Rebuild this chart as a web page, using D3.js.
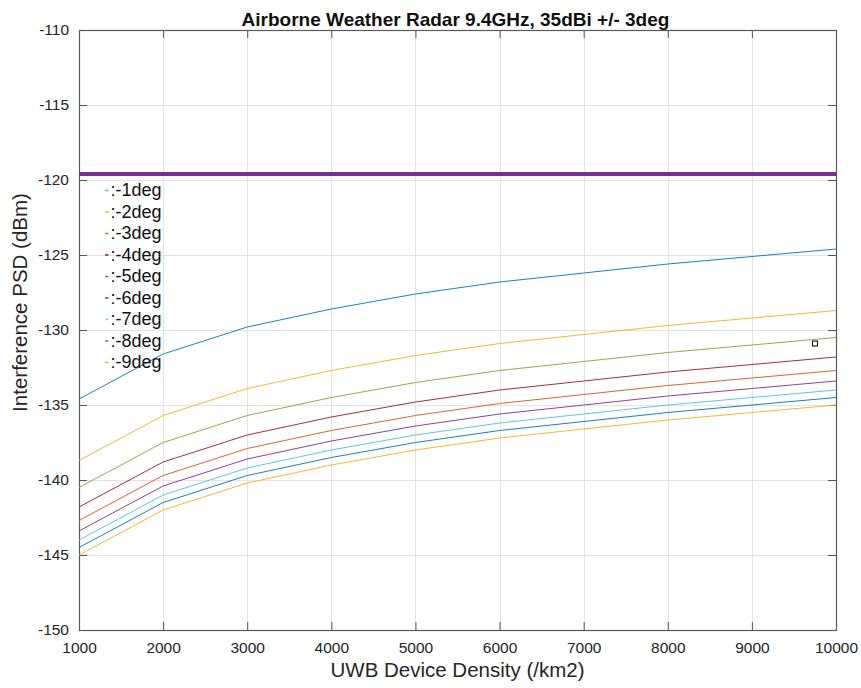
<!DOCTYPE html>
<html>
<head>
<meta charset="utf-8">
<script src="https://cdn.jsdelivr.net/npm/d3@7"></script>
<style>
  html, body { margin: 0; padding: 0; background: #fff; }
  svg { display: block; font-family: "Liberation Sans", Arial, Helvetica, sans-serif; }
</style>
</head>
<body>
<div id="chart"></div>
<script>
// ---- Data ----
const densities = [1000, 2000, 3000, 4000, 5000, 6000, 7000, 8000, 9000, 10000];
const seriesNames = [":-1deg", ":-2deg", ":-3deg", ":-4deg", ":-5deg", ":-6deg", ":-7deg", ":-8deg", ":-9deg"];
const seriesColors = ["#0072BD", "#EDB120", "#77AC30", "#A2142F", "#D95319", "#7E2F8E", "#4DBEEE", "#0072BD", "#EDB120"];
const legendColors = ["#4DBEEE", "#EDB120", "#77AC30", "#A2142F", "#D95319", "#A0307E", "#6FE0F0", "#2E8FD8", "#EDB120"];
const s1 = [-134.6, -131.6, -129.8, -128.6, -127.6, -126.8, -126.2, -125.6, -125.1, -124.6];
const s2 = [-138.7, -135.7, -133.9, -132.7, -131.7, -130.9, -130.3, -129.7, -129.2, -128.7];
const s3 = [-140.5, -137.5, -135.7, -134.5, -133.5, -132.7, -132.1, -131.5, -131.0, -130.5];
const s4 = [-141.8, -138.8, -137.0, -135.8, -134.8, -134.0, -133.4, -132.8, -132.3, -131.8];
const s5 = [-142.7, -139.7, -137.9, -136.7, -135.7, -134.9, -134.3, -133.7, -133.2, -132.7];
const s6 = [-143.4, -140.4, -138.6, -137.4, -136.4, -135.6, -135.0, -134.4, -133.9, -133.4];
const s7 = [-144.0, -141.0, -139.2, -138.0, -137.0, -136.2, -135.6, -135.0, -134.5, -134.0];
const s8 = [-144.5, -141.5, -139.7, -138.5, -137.5, -136.7, -136.1, -135.5, -135.0, -134.5];
const s9 = [-145.0, -142.0, -140.2, -139.0, -138.0, -137.2, -136.6, -136.0, -135.5, -135.0];
const seriesValues = [s1, s2, s3, s4, s5, s6, s7, s8, s9];
const thresholdValue = -119.6;
const markerPoint = [9750, -130.9];
const xTicks = [1000, 2000, 3000, 4000, 5000, 6000, 7000, 8000, 9000, 10000];
const yTicks = [-150, -145, -140, -135, -130, -125, -120, -115, -110];
const titleText = "Airborne Weather Radar 9.4GHz, 35dBi +/- 3deg";
const xLabel = "UWB Device Density (/km2)";
const yLabel = "Interference PSD (dBm)";

// ---- Layout ----
const W = 861, H = 688;
const m = { left: 79, right: 25, top: 30, bottom: 58 };
const pw = W - m.left - m.right, ph = H - m.top - m.bottom;

const svg = d3.select("#chart").append("svg").attr("width", W).attr("height", H);
const g = svg.append("g").attr("transform", `translate(${m.left},${m.top})`);

const x = d3.scaleLinear().domain([1000, 10000]).range([0, pw]);
const y = d3.scaleLinear().domain([-150, -110]).range([ph, 0]);

// grid
g.append("g").selectAll("line.vx").data(xTicks).join("line")
  .attr("x1", d => Math.round(x(d)) + 0.5).attr("x2", d => Math.round(x(d)) + 0.5)
  .attr("y1", 0).attr("y2", ph).attr("stroke", "#e3e3e3").attr("stroke-width", 1);
g.append("g").selectAll("line.hy").data(yTicks).join("line")
  .attr("y1", d => Math.round(y(d)) + 0.5).attr("y2", d => Math.round(y(d)) + 0.5)
  .attr("x1", 0).attr("x2", pw).attr("stroke", "#e3e3e3").attr("stroke-width", 1);

// axes
const tickLen = 8;
const fmt = d3.format("d");
const xAxisB = g.append("g").attr("transform", `translate(0,${ph})`)
  .call(d3.axisBottom(x).tickValues(xTicks).tickFormat(fmt).tickSizeInner(-tickLen).tickSizeOuter(0).tickPadding(12));
const xAxisT = g.append("g")
  .call(d3.axisTop(x).tickValues(xTicks).tickFormat("").tickSizeInner(-tickLen).tickSizeOuter(0));
const yAxisL = g.append("g")
  .call(d3.axisLeft(y).tickValues(yTicks).tickFormat(d => d).tickSizeInner(-tickLen).tickSizeOuter(0).tickPadding(10));
const yAxisR = g.append("g").attr("transform", `translate(${pw},0)`)
  .call(d3.axisRight(y).tickValues(yTicks).tickFormat("").tickSizeInner(-tickLen).tickSizeOuter(0));
[xAxisB, xAxisT, yAxisL, yAxisR].forEach(a => {
  a.select(".domain").remove();
  a.selectAll(".tick line").attr("stroke", "#555").attr("stroke-width", 1);
  a.selectAll("text").attr("fill", "#262626").style("font-size", "15.5px")
    .style("font-family", "'Liberation Sans', Arial, Helvetica, sans-serif");
});

// box
g.append("rect").attr("x", 0.5).attr("y", 0.5).attr("width", pw).attr("height", ph)
  .attr("fill", "none").attr("stroke", "#5a5a5a").attr("stroke-width", 1.2);

// threshold line
g.append("line").attr("x1", x(1000)).attr("x2", x(10000))
  .attr("y1", y(thresholdValue)).attr("y2", y(thresholdValue))
  .attr("stroke", "#7E2F8E").attr("stroke-width", 4);

// series lines
const line = d3.line().x((d, i) => x(densities[i])).y(d => y(d));
g.append("g").selectAll("path").data(seriesValues).join("path")
  .attr("d", d => line(d)).attr("fill", "none")
  .attr("stroke", (d, i) => seriesColors[i]).attr("stroke-width", 1).attr("opacity", 0.9);

// marker
g.append("rect").attr("x", x(markerPoint[0]) - 2.5).attr("y", y(markerPoint[1]) - 2.5)
  .attr("width", 5).attr("height", 5).attr("fill", "#fff").attr("stroke", "#000").attr("stroke-width", 1);

// legend
const leg = g.append("g").attr("transform", "translate(26, 160.5)");
const li = leg.selectAll("g").data(seriesNames).join("g")
  .attr("transform", (d, i) => `translate(0, ${i * 21.5})`);
li.append("line").attr("x1", 0).attr("x2", 3.5).attr("y1", 0).attr("y2", 0)
  .attr("stroke", (d, i) => legendColors[i]).attr("stroke-width", 1.5);
li.append("text").attr("x", 5.5).attr("y", 0).attr("dy", "0.33em")
  .style("font-size", "18px").attr("fill", "#111").text(d => d);

// title and labels
svg.append("text").attr("x", m.left + pw / 2 - 2).attr("y", 26).attr("text-anchor", "middle")
  .style("font-size", "19px").style("font-weight", "bold").attr("fill", "#111").text(titleText);
svg.append("text").attr("x", m.left + pw / 2).attr("y", 677).attr("text-anchor", "middle")
  .style("font-size", "20.5px").attr("fill", "#262626").text(xLabel);
svg.append("text").attr("transform", `translate(27, 302.5) rotate(-90)`)
  .attr("text-anchor", "middle").style("font-size", "20.5px").attr("fill", "#262626").text(yLabel);
</script>
</body>
</html>
